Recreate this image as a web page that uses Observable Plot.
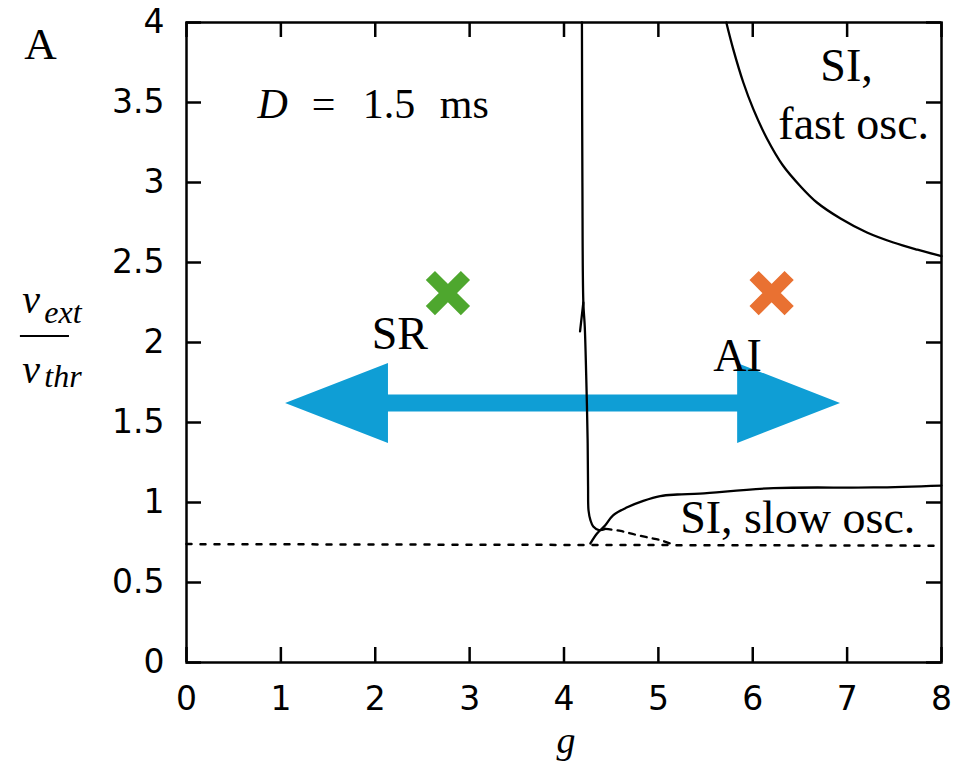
<!DOCTYPE html>
<html><head><meta charset="utf-8">
<script src="https://cdn.jsdelivr.net/npm/d3@7"></script>
<script src="https://cdn.jsdelivr.net/npm/@observablehq/plot@0.6"></script>
<style>body{margin:0;background:#fff}</style>
</head><body><div id="chart"></div>
<script>
// axis ticks
const xTicks = [0, 1, 2, 3, 4, 5, 6, 7, 8];
const yTicks = [0, 0.5, 1, 1.5, 2, 2.5, 3, 3.5, 4];

// boundary: SI fast oscillations (top right)
const fastG  = [5.72, 5.79, 5.90, 6.005, 6.15, 6.32, 6.50, 6.68, 6.93, 7.21, 7.49, 7.745, 8.0];
const fastNu = [4.0, 3.84, 3.625, 3.46, 3.275, 3.106, 2.98, 2.875, 2.775, 2.6875, 2.625, 2.58, 2.54];

// near-vertical boundary SR / AI
const vertG  = [4.19, 4.195, 4.205, 4.22, 4.235, 4.25, 4.255, 4.26, 4.28, 4.31, 4.37, 4.44];
const vertNu = [4.0, 3.0, 2.25, 2.1, 1.8, 1.4, 1.1, 0.95, 0.89, 0.85, 0.828, 0.835];
// small spur on the vertical boundary
const spurG  = [4.205, 4.17];
const spurNu = [2.25, 2.07];

// dashed continuation of the vertical boundary
const dashG  = [4.44, 4.6, 4.75, 4.9, 5.02, 5.12];
const dashNu = [0.835, 0.822, 0.80, 0.78, 0.765, 0.745];

// boundary: SI slow oscillations (solid)
const slowG  = [4.28, 4.35, 4.435, 4.52, 4.67, 4.84, 5.02, 5.2, 5.44, 6.22, 7.28, 8.0];
const slowNu = [0.744, 0.806, 0.856, 0.92, 0.97, 1.01, 1.04, 1.05, 1.056, 1.09, 1.094, 1.106];

// dotted horizontal line
const dotG  = [0, 8];
const dotNu = [0.74, 0.73];

// markers
const crossG = [2.77, 6.20];
const crossNu = [2.309, 2.309];
const crossColor = ["#4EA72E", "#E97132"];

// double arrow (polygon outline)
const arrowG  = [1.05, 2.14, 2.14, 5.84, 5.84, 6.93];
const arrowLo = [1.619, 1.369, 1.566, 1.566, 1.369, 1.619];
const arrowHi = [1.619, 1.869, 1.672, 1.672, 1.869, 1.619];

// region labels
const regionText = ["SR", "AI", "SI, slow osc.", "SI,", "fast osc."];
const regionG    = [1.963, 5.581, 5.231, 6.716, 6.271];
const regionNu   = [1.9625, 1.825, 0.8125, 3.6375, 3.275];

// parameter annotation
const paramText = ["=", "1.5", "ms"];
const paramG = [1.326, 1.867, 2.684];
const paramNu = [3.406, 3.406, 3.406];
const paramItalic = ["D"];
const paramItalicG = [0.753];

// panel letter
const panelText = ["A"];
const panelG = [-1.72];
const panelNu = [3.775];

// y-axis label (fraction nu_ext / nu_thr)
const yLabNu = ["ν", "ν"];
const yLabNuG = [-1.74, -1.74];
const yLabNuY = [2.1875, 1.75];
const yLabSub = ["ext", "thr"];
const yLabSubG = [-1.507, -1.507];
const yLabSubY = [2.125, 1.725];
const fracY = 2.04, fracX1 = -1.76, fracX2 = -1.24;

// x-axis label
const xLabel = ["g"];
const xLabelG = [4.02];
const xLabelNu = [-0.5625];

const serif = "Liberation Serif";
const TLx = 15 / 94.25, TLy = 15 / 160;

const idx = a => a.map((_, i) => i);

const chart = Plot.plot({
  width: 958, height: 765,
  marginLeft: 186, marginRight: 17, marginTop: 22, marginBottom: 103,
  x: {domain: [0, 8]},
  y: {domain: [0, 4]},
  style: {fontFamily: "DejaVu Sans", background: "white"},
  marks: [
    Plot.areaY(idx(arrowG), {x: i => arrowG[i], y1: i => arrowLo[i], y2: i => arrowHi[i], fill: "#0F9ED5", curve: "linear"}),
    Plot.line(idx(dotG), {x: i => dotG[i], y: i => dotNu[i], stroke: "black", strokeWidth: 2.5, strokeDasharray: "5,9"}),
    Plot.line(idx(dashG), {x: i => dashG[i], y: i => dashNu[i], stroke: "black", strokeWidth: 2.3, strokeDasharray: "6,6", curve: "catmull-rom"}),
    Plot.line(idx(fastG), {x: i => fastG[i], y: i => fastNu[i], stroke: "black", strokeWidth: 2.3, curve: "catmull-rom"}),
    Plot.line(idx(vertG), {x: i => vertG[i], y: i => vertNu[i], stroke: "black", strokeWidth: 2.3, curve: "catmull-rom"}),
    Plot.line(idx(spurG), {x: i => spurG[i], y: i => spurNu[i], stroke: "black", strokeWidth: 2.3}),
    Plot.line(idx(slowG), {x: i => slowG[i], y: i => slowNu[i], stroke: "black", strokeWidth: 2.3, curve: "catmull-rom"}),
    Plot.dot(idx(crossG), {x: i => crossG[i], y: i => crossNu[i], stroke: i => crossColor[i], symbol: "times", r: 16, strokeWidth: 13}),
    Plot.frame({stroke: "black", strokeWidth: 2.5}),
    Plot.ruleX(xTicks, {x: d => d, y1: 0, y2: TLy, stroke: "black", strokeWidth: 2.5}),
    Plot.ruleX(xTicks, {x: d => d, y1: 4 - TLy, y2: 4, stroke: "black", strokeWidth: 2.5}),
    Plot.ruleY(yTicks, {y: d => d, x1: 0, x2: TLx, stroke: "black", strokeWidth: 2.5}),
    Plot.ruleY(yTicks, {y: d => d, x1: 8 - TLx, x2: 8, stroke: "black", strokeWidth: 2.5}),
    Plot.axisX(xTicks, {tickSize: 0, tickPadding: 24, fontSize: 33, label: null, tickFormat: d => String(d)}),
    Plot.axisY(yTicks, {tickSize: 0, tickPadding: 22, fontSize: 33, label: null, tickFormat: d => String(d)}),
    Plot.text(regionText, {x: (d, i) => regionG[i], y: (d, i) => regionNu[i], text: d => d, textAnchor: "start", lineAnchor: "bottom", fontFamily: serif, fontSize: 46, fill: "black"}),
    Plot.text(paramText, {x: (d, i) => paramG[i], y: (d, i) => paramNu[i], text: d => d, textAnchor: "start", lineAnchor: "bottom", fontFamily: serif, fontSize: 42, fill: "black"}),
    Plot.text(paramItalic, {x: (d, i) => paramItalicG[i], y: 3.406, text: d => d, textAnchor: "start", lineAnchor: "bottom", fontFamily: serif, fontStyle: "italic", fontSize: 42, fill: "black"}),
    Plot.text(panelText, {x: (d, i) => panelG[i], y: (d, i) => panelNu[i], text: d => d, textAnchor: "start", lineAnchor: "bottom", fontFamily: serif, fontSize: 45, fill: "black"}),
    Plot.text(yLabNu, {x: (d, i) => yLabNuG[i], y: (d, i) => yLabNuY[i], text: d => d, textAnchor: "start", lineAnchor: "bottom", fontFamily: serif, fontStyle: "italic", fontSize: 40, fill: "black"}),
    Plot.text(yLabSub, {x: (d, i) => yLabSubG[i], y: (d, i) => yLabSubY[i], text: d => d, textAnchor: "start", lineAnchor: "bottom", fontFamily: serif, fontStyle: "italic", fontSize: 32, fill: "black"}),
    Plot.ruleY([fracY], {x1: fracX1, x2: fracX2, stroke: "black", strokeWidth: 2}),
    Plot.text(xLabel, {x: (d, i) => xLabelG[i], y: (d, i) => xLabelNu[i], text: d => d, textAnchor: "middle", lineAnchor: "bottom", fontFamily: serif, fontStyle: "italic", fontSize: 38, fill: "black"})
  ]
});
document.getElementById("chart").appendChild(chart);
</script>
</body></html>
